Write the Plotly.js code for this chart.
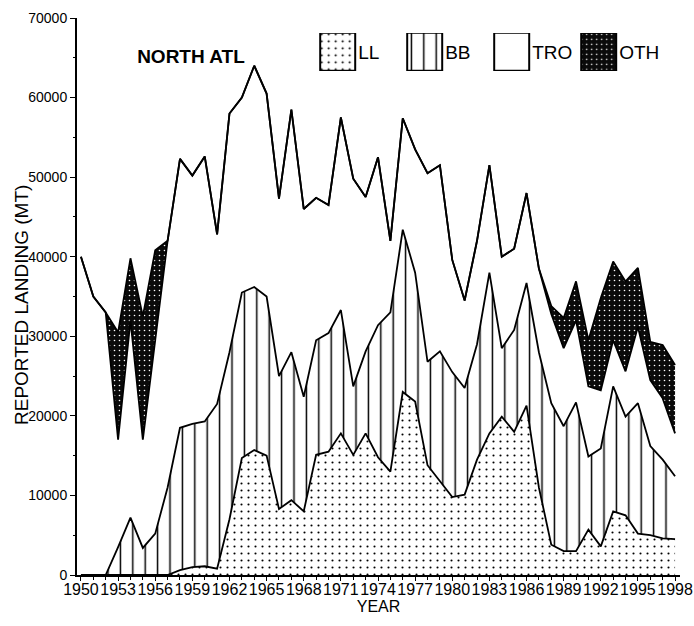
<!DOCTYPE html>
<html>
<head>
<meta charset="utf-8">
<script src="https://cdn.plot.ly/plotly-3.0.1.min.js"></script>
<style>
  html, body { margin: 0; padding: 0; background: #fff; }
  #chart { width: 694px; height: 626px; }
</style>
</head>
<body>
<div id="chart"></div>
<script>
const years = [1950,1951,1952,1953,1954,1955,1956,1957,1958,1959,
               1960,1961,1962,1963,1964,1965,1966,1967,1968,1969,
               1970,1971,1972,1973,1974,1975,1976,1977,1978,1979,
               1980,1981,1982,1983,1984,1985,1986,1987,1988,1989,
               1990,1991,1992,1993,1994,1995,1996,1997,1998];

const LL  = [0,0,0,0,0,0,0,0,600,1000,
             1100,800,7000,14700,15700,15000,8300,9400,8000,15100,
             15500,17800,15100,17800,14800,13000,23000,21800,13800,11800,
             9800,10100,14500,17800,19900,18000,21300,11000,3800,3000,
             3000,5700,3600,8000,7500,5200,5000,4600,4500];

const BB  = [0,0,0,3500,7200,3400,5200,11000,17900,18000,
             18200,20700,21000,20800,20500,20000,16700,18600,14400,14400,
             14900,15500,8600,10300,16600,20000,20400,16200,13000,16300,
             15700,13400,14500,20200,8600,12800,15400,17000,17800,15700,
             18700,9200,12300,15700,12400,16400,11200,9900,7900];

const TRO = [40000,35000,33000,13500,24800,13600,24300,31000,33800,31200,
             33300,21300,30000,24500,27800,25500,22300,30500,23600,17900,
             16100,24200,26100,19400,21100,9000,14000,15500,23700,23400,
             14100,11000,13000,13500,11500,10200,11300,10500,11200,9800,
             10300,8800,7300,5800,5700,9600,8300,7700,5400];

const OTH = [0,0,0,13500,7800,15500,11300,0,0,0,
             0,0,0,0,0,0,0,0,0,0,
             0,0,0,0,0,0,0,0,0,0,
             0,0,0,0,0,0,0,0,1000,3800,
             4900,5800,11600,9900,11300,7400,4800,6700,8600];

const tickYears = [1950,1953,1956,1959,1962,1965,1968,1971,1974,1977,1980,1983,1986,1989,1992,1995,1998];
const yTicks = [0,10000,20000,30000,40000,50000,60000,70000];
const seriesNames = ['LL','BB','TRO','OTH'];

const FONT = 'Liberation Sans, Arial, sans-serif';
const lineStyle = {color: '#000', width: 1.8, shape: 'linear'};

const traces = [
  {x: years, y: LL, name: seriesNames[0], type: 'scatter', mode: 'lines', stackgroup: 'a',
   line: lineStyle, fillcolor: '#ffffff',
   fillpattern: {shape: '.', size: 7, solidity: 0.07, fgcolor: '#000', bgcolor: '#fff'}, hoverinfo: 'skip'},
  {x: years, y: BB, name: seriesNames[1], type: 'scatter', mode: 'lines', stackgroup: 'a',
   line: lineStyle, fillcolor: '#ffffff',
   fillpattern: {shape: '|', size: 12.4, solidity: 0.12, fgcolor: '#000', bgcolor: '#fff'}, hoverinfo: 'skip'},
  {x: years, y: TRO, name: seriesNames[2], type: 'scatter', mode: 'lines', stackgroup: 'a',
   line: lineStyle, fillcolor: '#ffffff', hoverinfo: 'skip'},
  {x: years, y: OTH, name: seriesNames[3], type: 'scatter', mode: 'lines', stackgroup: 'a',
   line: lineStyle, fillcolor: '#0a0a0a',
   fillpattern: {shape: '.', size: 5, solidity: 0.08, fgcolor: '#ffffff', bgcolor: '#0a0a0a'}, hoverinfo: 'skip'}
];

const layout = {
  width: 694, height: 626,
  paper_bgcolor: '#fff', plot_bgcolor: '#fff',
  margin: {l: 77, r: 14, t: 18, b: 51, pad: 0},
  font: {family: FONT, color: '#000'},
  title: {text: 'NORTH ATL', font: {family: FONT, size: 19, weight: 'bold', color: '#000'},
          xref: 'paper', yref: 'paper', x: 0.189, y: 0.932, xanchor: 'center', yanchor: 'middle'},
  showlegend: true,
  legend: {orientation: 'h', x: 0.400, xanchor: 'left', y: 0.939, yanchor: 'middle',
           font: {family: FONT, size: 19, color: '#000'}, bgcolor: 'rgba(0,0,0,0)',
           traceorder: 'normal', entrywidth: 42, entrywidthmode: 'pixels'},
  xaxis: {range: [1949.68, 1998.4], tickmode: 'array', tickvals: tickYears,
          ticktext: tickYears.map(String),
          ticks: 'outside', ticklen: 4, tickwidth: 1, tickcolor: '#000',
          minor: {dtick: 1, ticks: 'outside', ticklen: 3, tickcolor: '#000', showgrid: false},
          showline: true, linecolor: '#000', linewidth: 2, showgrid: false, zeroline: false,
          tickfont: {family: FONT, size: 16, color: '#000'}, tickangle: 0,
          ticklabelstandoff: -5,
          title: {text: 'YEAR', font: {family: FONT, size: 16, color: '#000'}, standoff: 0},
          automargin: false, fixedrange: true},
  yaxis: {range: [0, 70000], tickmode: 'array', tickvals: yTicks,
          ticktext: yTicks.map(String),
          ticks: 'outside', ticklen: 5, tickwidth: 1, tickcolor: '#000',
          minor: {dtick: 5000, ticks: 'outside', ticklen: 2, tickcolor: '#000', showgrid: false},
          showline: true, linecolor: '#000', linewidth: 2, showgrid: false, zeroline: false,
          tickfont: {family: FONT, size: 14, color: '#000'},
          automargin: false, fixedrange: true},
  annotations: [
    {text: 'REPORTED LANDING (MT)', xref: 'paper', yref: 'paper', x: -0.091, y: 0.485,
     xanchor: 'center', yanchor: 'middle', textangle: -90, showarrow: false,
     font: {family: FONT, size: 19, color: '#000'}}
  ]
};

Plotly.newPlot('chart', traces, layout, {staticPlot: true, displayModeBar: false}).then(function (gd) {
  // enlarge the legend swatches into bordered boxes like the original
  gd.querySelectorAll('.legend .traces').forEach(function (g) {
    const fill = g.querySelector('.legendfill path');
    if (fill) {
      fill.setAttribute('d', 'M2,-19h35v38h-35z');
      fill.style.stroke = '#000';
      fill.style.strokeWidth = '2px';
    }
    g.querySelectorAll('.legendlines path').forEach(function (p) { p.style.display = 'none'; });
  });
});
</script>
</body>
</html>
